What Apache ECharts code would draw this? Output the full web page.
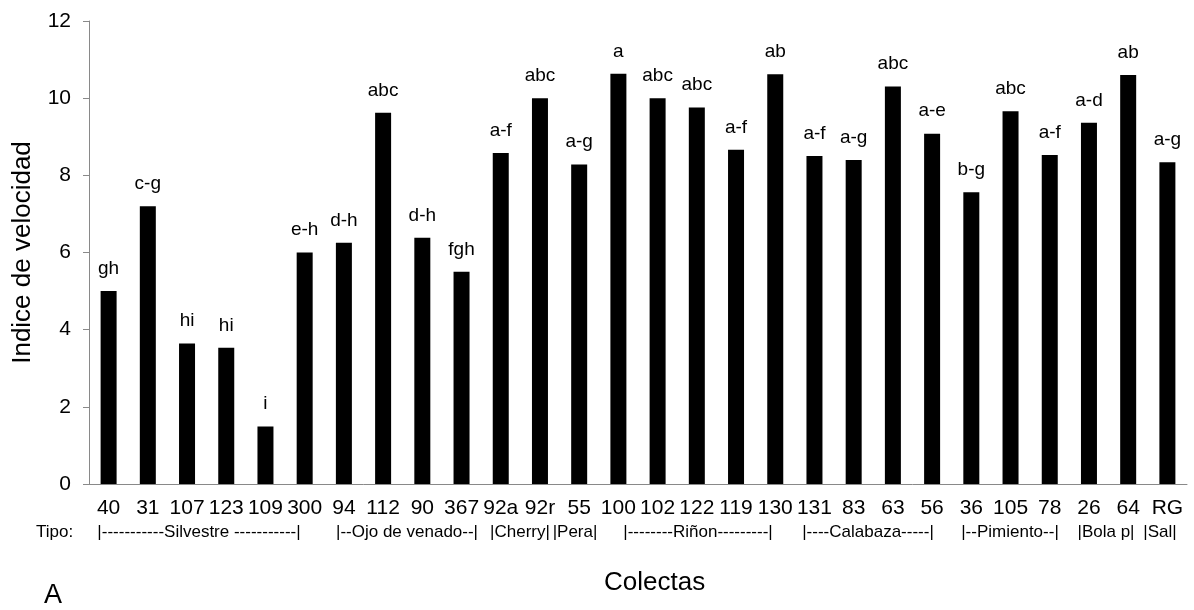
<!DOCTYPE html>
<html>
<head>
<meta charset="utf-8">
<script src="https://cdn.jsdelivr.net/npm/echarts@6/dist/echarts.min.js"></script>
<style>
html,body{margin:0;padding:0;background:#fff;}
#c{width:1194px;height:610px;}
</style>
</head>
<body>
<div id="c"></div>
<script>
const categories = ['40','31','107','123','109','300','94','112','90','367','92a','92r','55','100','102','122','119','130','131','83','63','56','36','105','78','26','64','RG'];
const values = [5.0,7.2,3.64,3.53,1.49,6.0,6.25,9.62,6.38,5.5,8.58,10.0,8.28,10.63,10.0,9.76,8.66,10.62,8.5,8.4,10.3,9.08,7.56,9.66,8.53,9.36,10.6,8.34];
const letters = ['gh','c-g','hi','hi','i','e-h','d-h','abc','d-h','fgh','a-f','abc','a-g','a','abc','abc','a-f','ab','a-f','a-g','abc','a-e','b-g','abc','a-f','a-d','ab','a-g'];
const yTicks = [0,2,4,6,8,10,12];
const tipoLabels = ['|-----------Silvestre -----------|','|--Ojo de venado--|','|Cherry|','|Pera|','|--------Riñon---------|','|----Calabaza-----|','|--Pimiento--|','|Bola p|','|Sal|'];
const tipoCenters = [199,407,520,575,698,868,1010,1106,1160];

const FONT = '"Liberation Sans", Arial, sans-serif';
const chart = echarts.init(document.getElementById('c'), null, {renderer:'canvas'});
chart.setOption({
  animation:false,
  grid:{left:89,right:7,top:21,bottom:126},
  xAxis:{
    type:'category',
    data:categories,
    axisLine:{lineStyle:{color:'#898989',width:1}},
    axisTick:{alignWithLabel:true,length:5,lineStyle:{color:'#898989'}},
    axisLabel:{color:'#000',fontFamily:FONT,fontSize:21,margin:14,interval:0}
  },
  yAxis:{
    type:'value',min:yTicks[0],max:yTicks[yTicks.length-1],interval:2,
    axisLine:{show:true,lineStyle:{color:'#898989'}},
    axisTick:{show:true,length:6,lineStyle:{color:'#898989'}},
    splitLine:{show:false},
    axisLabel:{color:'#000',fontFamily:FONT,fontSize:21,margin:18},
    name:'Indice de velocidad',nameLocation:'middle',nameGap:53,
    nameTextStyle:{color:'#000',fontFamily:FONT,fontSize:26}
  },
  series:[{
    type:'bar',
    data:values,
    barWidth:16,
    itemStyle:{color:'#000'},
    label:{show:true,position:'top',distance:13,color:'#000',fontFamily:FONT,fontSize:19,
      formatter:p=>letters[p.dataIndex]}
  }],
  graphic:[
    {type:'text',left:36,top:524,style:{text:'Tipo:',fill:'#000',font:'17px '+FONT}},
    ...tipoLabels.map((t,i)=>({type:'text',x:tipoCenters[i],y:524,style:{text:t,fill:'#000',font:'17px '+FONT,textAlign:'center',textVerticalAlign:'top'}})),
    {type:'text',left:604,top:570,style:{text:'Colectas',fill:'#000',font:'26px '+FONT}},
    {type:'text',left:44,top:582,style:{text:'A',fill:'#000',font:'27px '+FONT}}
  ]
});
</script>
</body>
</html>
